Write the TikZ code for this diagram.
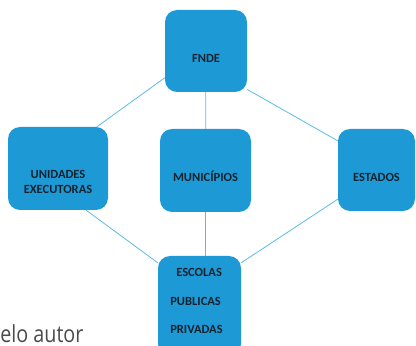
\documentclass[tikz,border=0pt]{standalone}
\usepackage{fontspec}
\setmainfont{Carlito}
\newfontfamily\notefont[FakeStretch=0.84]{Open Sans}
\definecolor{boxblue}{HTML}{1D9AD6}
\definecolor{linkblue}{HTML}{5ABCE4}
\definecolor{notegray}{HTML}{4A4A4A}
\definecolor{unitink}{HTML}{14222E}
\tikzset{
  unit/.style={fill=boxblue, rounded corners=12pt, inner sep=0pt},
  unittext/.style={font=\bfseries\fontsize{12.5}{15}\selectfont, text=unitink, align=center},
  link/.style={draw=linkblue, line width=0.8pt},
}
\begin{document}
\begin{tikzpicture}[x=1pt,y=1pt]
	\useasboundingbox (0,0) rectangle (416,346);
	\clip (0,0) rectangle (416,346);

	% boxes
	\node [unit, minimum width=82pt, minimum height=82pt,
		label={[unittext, yshift=-7pt]center:FNDE}] (fnde) at (206,295) {};
	\node [unit, minimum width=100pt, minimum height=83pt,
		label={[unittext, yshift=-13pt]center:UNIDADES\\EXECUTORAS}] (unid) at (58,177.5) {};
	\node [unit, minimum width=91pt, minimum height=83pt,
		label={[unittext, yshift=-6pt]center:MUNICÍPIOS}] (muni) at (205.5,175.5) {};
	\node [unit, minimum width=77pt, minimum height=82pt,
		label={[unittext, yshift=-7.5pt]center:ESTADOS}] (estados) at (376.5,176) {};
	\node [unit, minimum width=83pt, minimum height=100pt,
		label={[unittext, align=left, xshift=-3pt, yshift=5pt]center:\hspace*{6pt}ESCOLAS\\[13.5pt]PUBLICAS\\[13.5pt]PRIVADAS}] (escolas) at (199.5,40) {};

	% links
	\draw [link] (fnde.213) -- (unid.47);
	\draw [link] (fnde.317) -- (estados.143);
	\draw [link] (fnde) -- (muni);
	\draw [link] (unid.304) -- (escolas.134);
	\draw [link] (muni.south) -- (muni.south |- escolas.north);
	\draw [link] (estados.217) -- (escolas.46);

	\node [anchor=base east, text=notegray, font=\notefont\fontsize{23.5}{28}\selectfont] (source) at (87,3) {pelo autor};
\end{tikzpicture}
\end{document}
